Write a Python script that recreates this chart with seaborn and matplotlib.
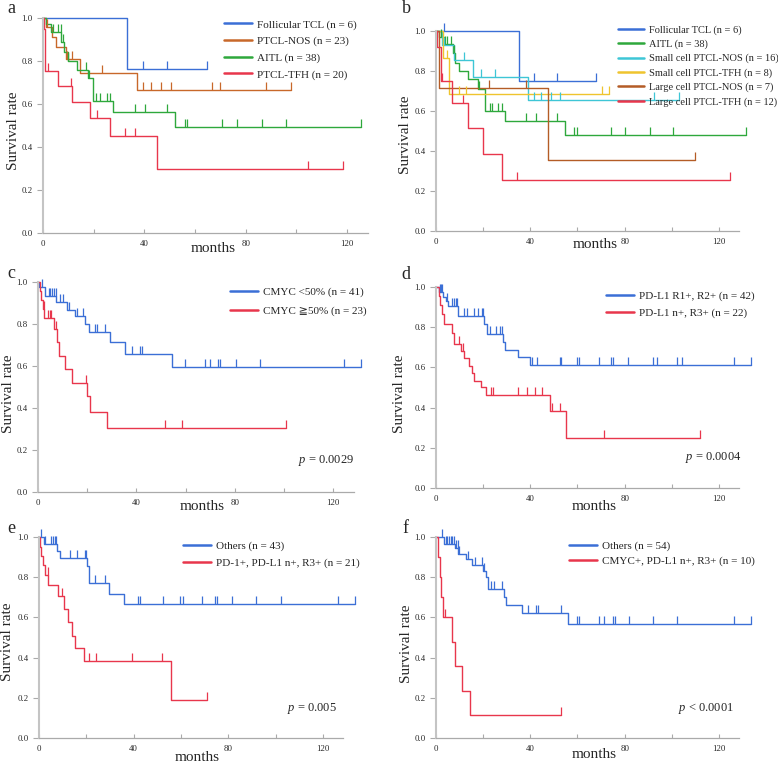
import numpy as np
import pandas as pd
import matplotlib
matplotlib.use("Agg")
import matplotlib.pyplot as plt
from matplotlib.path import Path
import seaborn as sns

# ---------------- data ----------------
# each curve: step times (months), survival after each step (last = end of follow-up), censor times
a_foll_t = [0, 33.3, 64.6]
a_foll_s = [1.0, 0.765, 0.765]
a_foll_c = [39.5, 49.0, 64.6]
a_nos_t = [0, 1.3, 3.5, 5.0, 9.0, 14.5, 37.1, 98.0]
a_nos_s = [1.0, 0.957, 0.913, 0.863, 0.809, 0.745, 0.665, 0.665]
a_nos_c = [1.5, 9.5, 11.5, 23.4, 39.5, 42.5, 46.5, 50.5, 66.6, 69.7, 88.0, 98.0]
a_aitl_t = [0, 1.3, 3.3, 7.2, 8.2, 9.9, 13.4, 17.8, 19.7, 27.6, 52.0, 125.4]
a_aitl_s = [1.0, 0.97, 0.937, 0.89, 0.84, 0.80, 0.76, 0.72, 0.616, 0.561, 0.493, 0.493]
a_aitl_c = [3.9, 5.9, 7.0, 7.9, 10.0, 16.8, 18.2, 21.1, 22.4, 25.4, 26.3, 36.2, 40.3, 49.1,
            55.9, 56.8, 70.7, 76.6, 86.3, 96.1, 125.4]
a_tfh_t = [0, 0.3, 0.8, 5.9, 11.6, 18.6, 26.3, 45.1, 118.4]
a_tfh_s = [1.0, 0.95, 0.754, 0.684, 0.61, 0.537, 0.451, 0.299, 0.299]
a_tfh_c = [1.9, 10.9, 21.4, 32.4, 36.2, 104.7, 118.4]

b_foll_t = [0, 35.3, 68.0]
b_foll_s = [1.0, 0.75, 0.75]
b_foll_c = [3.5, 41.5, 51.5, 68.0]
b_aitl_t = [0, 1.3, 3.3, 7.2, 8.2, 9.9, 13.4, 17.8, 20.8, 29.2, 54.6, 131.6]
b_aitl_s = [1.0, 0.97, 0.937, 0.89, 0.84, 0.80, 0.76, 0.71, 0.60, 0.55, 0.48, 0.48]
b_aitl_c = [2.1, 3.8, 4.5, 6.4, 7.6, 18.4, 22.9, 23.6, 26.4, 27.8, 38.1, 42.4, 51.5,
            58.6, 59.6, 74.1, 80.2, 90.6, 100.5, 131.6]
b_snos_t = [0, 2.5, 7.5, 15.8, 39.1, 103.0]
b_snos_s = [1.0, 0.93, 0.855, 0.77, 0.655, 0.655]
b_snos_c = [3.5, 11.9, 18.9, 25.0, 41.5, 44.5, 48.6, 52.7, 92.5, 103.0]
b_stfh_t = [0, 2.8, 5.6, 73.3]
b_stfh_s = [1.0, 0.865, 0.685, 0.685]
b_stfh_c = [4.5, 9.7, 12.8, 70.2, 73.3]
b_lnos_t = [0, 1.3, 47.6, 110.0]
b_lnos_s = [1.0, 0.714, 0.355, 0.355]
b_lnos_c = [22.6, 38.1, 110.0]
b_ltfh_t = [0, 0.3, 2.1, 6.6, 13.7, 19.8, 28.2, 124.5]
b_ltfh_s = [1.0, 0.92, 0.75, 0.642, 0.515, 0.383, 0.255, 0.255]
b_ltfh_c = [2.6, 11.6, 34.2, 124.5]

c_lo_t = [0, 0.5, 2.7, 7.5, 11.9, 14.9, 19.0, 20.7, 29.2, 35.3, 54.6, 131.3]
c_lo_s = [1.0, 0.976, 0.932, 0.903, 0.868, 0.836, 0.801, 0.76, 0.712, 0.658, 0.594, 0.594]
c_lo_c = [1.6, 4.3, 5.0, 5.8, 6.5, 7.3, 8.8, 10.2, 12.6, 15.9, 18.5, 23.0, 24.0, 27.1,
          38.4, 41.6, 42.4, 59.9, 68.1, 70.1, 73.2, 74.2, 80.4, 90.4, 124.3, 131.3]
c_hi_t = [0, 0.7, 1.4, 2.0, 2.6, 6.4, 7.7, 8.5, 10.8, 14.0, 19.9, 21.0, 28.2, 100.7]
c_hi_s = [1.0, 0.957, 0.913, 0.87, 0.83, 0.775, 0.712, 0.648, 0.584, 0.517, 0.457, 0.379,
          0.303, 0.303]
c_hi_c = [2.3, 4.0, 4.7, 5.4, 7.2, 19.5, 51.8, 58.7, 100.7]

d_r12_t = [0, 1.4, 3.1, 4.2, 5.2, 9.2, 20.5, 21.5, 28.5, 29.2, 34.9, 39.8, 133.4]
d_r12_s = [1.0, 0.976, 0.952, 0.928, 0.905, 0.857, 0.817, 0.767, 0.728, 0.689, 0.65, 0.612,
           0.612]
d_r12_c = [1.5, 2.0, 2.5, 4.8, 6.6, 7.6, 8.3, 8.7, 11.9, 13.0, 16.1, 17.9, 19.3, 20.0,
           22.9, 25.4, 27.1, 28.2, 40.8, 42.9, 52.5, 53.2, 59.6, 60.6, 69.0, 74.4, 75.1,
           81.5, 92.0, 93.9, 102.2, 104.2, 126.2, 133.4]
d_r3_t = [0, 1.2, 1.8, 2.4, 3.4, 6.6, 7.6, 10.6, 11.9, 14.0, 15.1, 16.1, 19.1, 21.0, 48.3,
          55.3, 111.8]
d_r3_s = [1.0, 0.955, 0.91, 0.864, 0.815, 0.77, 0.717, 0.684, 0.646, 0.607, 0.571, 0.534,
          0.504, 0.463, 0.383, 0.25, 0.25]
d_r3_c = [9.7, 11.3, 23.3, 24.3, 34.6, 38.8, 41.9, 45.0, 49.3, 52.5, 71.2, 111.8]

e_oth_t = [0, 2.1, 7.6, 8.8, 20.3, 21.2, 29.6, 35.9, 133.4]
e_oth_s = [1.0, 0.963, 0.93, 0.895, 0.855, 0.769, 0.717, 0.666, 0.666]
e_oth_c = [1.0, 2.4, 5.2, 5.9, 6.6, 7.3, 13.0, 16.2, 19.3, 20.0, 23.6, 27.8, 41.9, 42.9,
           52.5, 59.6, 60.7, 69.0, 74.4, 75.1, 81.7, 91.8, 102.4, 126.2, 133.4]
e_pd_t = [0, 0.6, 1.0, 1.7, 2.4, 3.8, 8.0, 10.4, 12.3, 14.1, 15.1, 18.9, 55.6, 71.2]
e_pd_s = [1.0, 0.952, 0.905, 0.859, 0.809, 0.759, 0.704, 0.641, 0.576, 0.509, 0.446, 0.383,
          0.188, 0.188]
e_pd_c = [3.6, 9.9, 21.2, 24.3, 39.1, 52.2, 71.2]

f_oth_t = [0, 3.5, 8.0, 9.5, 12.7, 15.1, 20.0, 21.0, 22.0, 28.8, 29.6, 36.3, 55.8, 133.4]
f_oth_s = [1.0, 0.965, 0.945, 0.917, 0.89, 0.862, 0.832, 0.80, 0.74, 0.70, 0.662, 0.621,
           0.569, 0.569]
f_oth_c = [2.4, 4.2, 4.8, 5.5, 6.2, 6.9, 7.6, 8.5, 9.2, 9.9, 13.4, 16.5, 19.3, 20.5, 23.3,
           24.6, 27.8, 39.1, 42.2, 43.1, 52.8, 60.0, 60.7, 69.2, 71.2, 75.1, 75.8, 81.7,
           92.0, 102.4, 126.2, 133.4]
f_my_t = [0, 1.0, 1.7, 2.0, 2.8, 6.6, 8.0, 11.2, 14.4, 52.8]
f_my_s = [1.0, 0.90, 0.80, 0.70, 0.60, 0.479, 0.356, 0.233, 0.113, 0.113]
f_my_c = [3.8, 52.8]

x_ticks = [0, 40, 80, 120]
x_minor = [20, 60, 100]
y_ticks = [0.0, 0.2, 0.4, 0.6, 0.8, 1.0]

# ---------------- style ----------------
sns.set_style("white")
plt.rcParams["font.family"] = ["Liberation Serif", "DejaVu Sans", "Noto Sans CJK JP"]
plt.rcParams["mathtext.fontset"] = "custom"
plt.rcParams["mathtext.it"] = "Liberation Serif:italic"
plt.rcParams["mathtext.rm"] = "Liberation Serif"

BLUE = "#3b6fd6"
RED = "#e8364c"
GREEN = "#2ea83c"
ORANGE = "#c8682a"
CYAN = "#3ec6d6"
YELLOW = "#efc42e"
BROWN = "#b45c26"

TICK = Path([(0, 0), (0, 1)], [Path.MOVETO, Path.LINETO])

W, H = 778, 765
fig = plt.figure(figsize=(W / 100, H / 100), dpi=100)


def px_axes(x0, x1, ytop, ybot):
    return fig.add_axes([x0 / W, (H - ybot) / H, (x1 - x0) / W, (ybot - ytop) / H])


def draw_curve(ax, t, s, cens, color, label):
    df = pd.DataFrame({"months": t, "surv": s})
    sns.lineplot(data=df, x="months", y="surv", ax=ax, color=color, lw=1.0,
                 drawstyle="steps-post", estimator=None, sort=False, errorbar=None,
                 label=label, clip_on=False)
    idx = np.searchsorted(np.asarray(t), np.asarray(cens), side="right") - 1
    cy = np.asarray(s)[idx]
    sns.scatterplot(x=cens, y=cy, ax=ax, marker=TICK, s=130, color=color,
                    edgecolor=color, linewidth=0.9, clip_on=False, legend=False,
                    zorder=3)


def style_axes(ax, xmax, ylab_xy, xlab_xy):
    ax.set_xlim(0, xmax)
    ax.set_ylim(0, 1.0)
    for sp in ["top", "right"]:
        ax.spines[sp].set_visible(False)
    ax.spines["left"].set_color("#c4c4c4")
    ax.spines["left"].set_linewidth(1.5)
    ax.spines["bottom"].set_color("#aaaaaa")
    ax.spines["bottom"].set_linewidth(0.9)
    ax.set_xticks(x_ticks)
    ax.set_xticks(x_minor, minor=True)
    ax.set_yticks(y_ticks)
    ax.set_yticklabels([f"{v:.1f}" for v in y_ticks])
    ax.tick_params(axis="x", which="both", direction="in", length=3, width=0.8,
                   color="#aaaaaa", labelsize=6.3, pad=5, bottom=True)
    ax.tick_params(axis="y", direction="out", length=4.3, width=0.8, color="#aaaaaa",
                   labelsize=6.3, pad=3, left=True)
    ax.set_ylabel("Survival rate", fontsize=11, va="center")
    ax.yaxis.set_label_coords(*ylab_xy)
    ax.set_xlabel("months", fontsize=11, va="center")
    ax.xaxis.set_label_coords(*xlab_xy)
    ax.grid(False)


def add_legend(ax, xy, fs, spacing):
    h, l = ax.get_legend_handles_labels()
    leg = ax.legend(h, l, loc="upper left", bbox_to_anchor=xy, frameon=False,
                    fontsize=fs, handlelength=2.5, handletextpad=0.45,
                    labelspacing=spacing, borderpad=0, borderaxespad=0)
    for ln in leg.get_lines():
        ln.set_linewidth(1.8)


# ---------------- panel a ----------------
ax = px_axes(43, 368, 18, 233)
draw_curve(ax, a_foll_t, a_foll_s, a_foll_c, BLUE, "Follicular TCL (n = 6)")
draw_curve(ax, a_nos_t, a_nos_s, a_nos_c, ORANGE, "PTCL-NOS (n = 23)")
draw_curve(ax, a_aitl_t, a_aitl_s, a_aitl_c, GREEN, "AITL (n = 38)")
draw_curve(ax, a_tfh_t, a_tfh_s, a_tfh_c, RED, "PTCL-TFH (n = 20)")
style_axes(ax, 128.3, (-0.091, 0.474), (0.523, -0.07))
add_legend(ax, (0.557, 0.993), 8, 0.6)

# ---------------- panel b ----------------
ax = px_axes(436, 739, 31, 231)
draw_curve(ax, b_foll_t, b_foll_s, b_foll_c, BLUE, "Follicular TCL (n = 6)")
draw_curve(ax, b_aitl_t, b_aitl_s, b_aitl_c, GREEN, "AITL (n = 38)")
draw_curve(ax, b_snos_t, b_snos_s, b_snos_c, CYAN, "Small cell PTCL-NOS (n = 16)")
draw_curve(ax, b_stfh_t, b_stfh_s, b_stfh_c, YELLOW, "Small cell PTCL-TFH (n = 8)")
draw_curve(ax, b_lnos_t, b_lnos_s, b_lnos_c, BROWN, "Large cell PTCL-NOS (n = 7)")
draw_curve(ax, b_ltfh_t, b_ltfh_s, b_ltfh_c, RED, "Large cell PTCL-TFH (n = 12)")
style_axes(ax, 128.5, (-0.102, 0.48), (0.525, -0.07))
add_legend(ax, (0.60, 1.03), 7.5, 0.46)

# ---------------- panel c ----------------
ax = px_axes(38, 354, 282, 492)
draw_curve(ax, c_lo_t, c_lo_s, c_lo_c, BLUE, "CMYC <50% (n = 41)")
draw_curve(ax, c_hi_t, c_hi_s, c_hi_c, RED, "CMYC \u226750% (n = 23)")
style_axes(ax, 128.5, (-0.092, 0.47), (0.519, -0.067))
add_legend(ax, (0.608, 0.978), 8, 0.82)
ax.text(0.823, 0.148, r"$\mathit{p}$ = 0.0029", transform=ax.transAxes, fontsize=9,
        ha="left", va="center")

# ---------------- panel d ----------------
ax = px_axes(436, 739, 287, 488)
draw_curve(ax, d_r12_t, d_r12_s, d_r12_c, BLUE, "PD-L1 R1+, R2+ (n = 42)")
draw_curve(ax, d_r3_t, d_r3_s, d_r3_c, RED, "PD-L1 n+, R3+ (n = 22)")
style_axes(ax, 128.5, (-0.119, 0.47), (0.521, -0.09))
add_legend(ax, (0.561, 0.98), 8, 0.62)
ax.text(0.822, 0.154, r"$\mathit{p}$ = 0.0004", transform=ax.transAxes, fontsize=9,
        ha="left", va="center")

# ---------------- panel e ----------------
ax = px_axes(39, 343, 537, 738)
draw_curve(ax, e_oth_t, e_oth_s, e_oth_c, BLUE, "Others (n = 43)")
draw_curve(ax, e_pd_t, e_pd_s, e_pd_c, RED, "PD-1+, PD-L1 n+, R3+ (n = 21)")
style_axes(ax, 128.5, (-0.102, 0.48), (0.519, -0.095))
add_legend(ax, (0.474, 0.98), 8, 0.62)
ax.text(0.816, 0.149, r"$\mathit{p}$ = 0.005", transform=ax.transAxes, fontsize=9,
        ha="left", va="center")

# ---------------- panel f ----------------
ax = px_axes(436, 739, 537, 738)
draw_curve(ax, f_oth_t, f_oth_s, f_oth_c, BLUE, "Others (n = 54)")
draw_curve(ax, f_my_t, f_my_s, f_my_c, RED, "CMYC+, PD-L1 n+, R3+ (n = 10)")
style_axes(ax, 128.5, (-0.096, 0.47), (0.521, -0.08))
add_legend(ax, (0.439, 0.98), 8, 0.44)
ax.text(0.799, 0.149, r"$\mathit{p}$ < 0.0001", transform=ax.transAxes, fontsize=9,
        ha="left", va="center")

# ---------------- panel letters ----------------
for letter, (lx, ly) in {"a": (7, 13), "b": (402, 13), "c": (7, 278),
                         "d": (401, 279), "e": (7, 533), "f": (402, 533)}.items():
    fig.text(lx / W, 1 - ly / H, letter, fontsize=13, ha="left", va="baseline")

fig.savefig("out.png", dpi=100)
